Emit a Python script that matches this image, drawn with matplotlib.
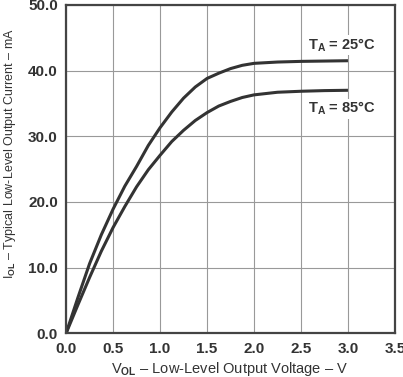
import matplotlib
matplotlib.use("Agg")
import matplotlib.pyplot as plt

v_ol = [0.0, 0.125, 0.25, 0.375, 0.5, 0.625, 0.75, 0.875, 1.0, 1.125, 1.25,
        1.375, 1.5, 1.625, 1.75, 1.875, 2.0, 2.25, 2.5, 2.75, 3.0]
i_25c = [0.0, 5.4, 10.6, 15.0, 18.9, 22.4, 25.4, 28.6, 31.3, 33.7, 35.8,
         37.5, 38.8, 39.6, 40.3, 40.8, 41.1, 41.3, 41.4, 41.45, 41.5]
i_85c = [0.0, 4.3, 8.5, 12.5, 16.1, 19.3, 22.3, 24.9, 27.1, 29.2, 30.9,
         32.4, 33.6, 34.6, 35.3, 35.9, 36.3, 36.7, 36.85, 36.95, 37.0]

x_ticks = [0.0, 0.5, 1.0, 1.5, 2.0, 2.5, 3.0, 3.5]
y_ticks = [0.0, 10.0, 20.0, 30.0, 40.0, 50.0]

plt.rcParams['font.family'] = ['Liberation Sans', 'DejaVu Sans']
plt.rcParams['font.weight'] = 'bold'
plt.rcParams['mathtext.fontset'] = 'custom'
plt.rcParams['mathtext.rm'] = 'Liberation Sans:bold'
plt.rcParams['mathtext.default'] = 'rm'

fig = plt.figure(figsize=(4.03, 3.77), dpi=100)
ax = fig.add_axes([0.164, 0.116, 0.816, 0.871])

ax.plot(v_ol, i_25c, color='#333333', lw=2.2, solid_capstyle='butt')
ax.plot(v_ol, i_85c, color='#333333', lw=2.2, solid_capstyle='butt')

ax.set_xlim(0, 3.5)
ax.set_ylim(0, 50)
ax.set_xticks(x_ticks)
ax.set_yticks(y_ticks)
ax.set_xticklabels([f'{t:.1f}' for t in x_ticks])
ax.set_yticklabels([f'{t:.1f}' for t in y_ticks])
ax.tick_params(length=0, pad=6, labelsize=11, colors='#333333')
ax.grid(True, color='#999999', lw=0.8)
ax.set_axisbelow(True)
for s in ax.spines.values():
    s.set_color('#444444')
    s.set_linewidth(1.6)

ax.set_xlabel(r'V$_{OL}$ – Low-Level Output Voltage – V', fontsize=10.5,
              color='#333333', va='top')
ax.xaxis.set_label_coords(0.498, -0.082)

ax.set_ylabel('I$_{OL}$ – Typical Low-Level Output Current – mA', fontsize=9,
              color='#333333', fontweight='normal', va='center')
ax.yaxis.set_label_coords(-0.17, 0.548)

box = dict(facecolor='white', edgecolor='none', pad=1)
ax.text(2.94, 43.9, r'T$_A$ = 25°C', ha='center', va='center', fontsize=10.5,
        color='#333333', bbox=box)
ax.text(2.94, 34.2, r'T$_A$ = 85°C', ha='center', va='center', fontsize=10.5,
        color='#333333', bbox=box)

fig.savefig('out.png', dpi=100)
